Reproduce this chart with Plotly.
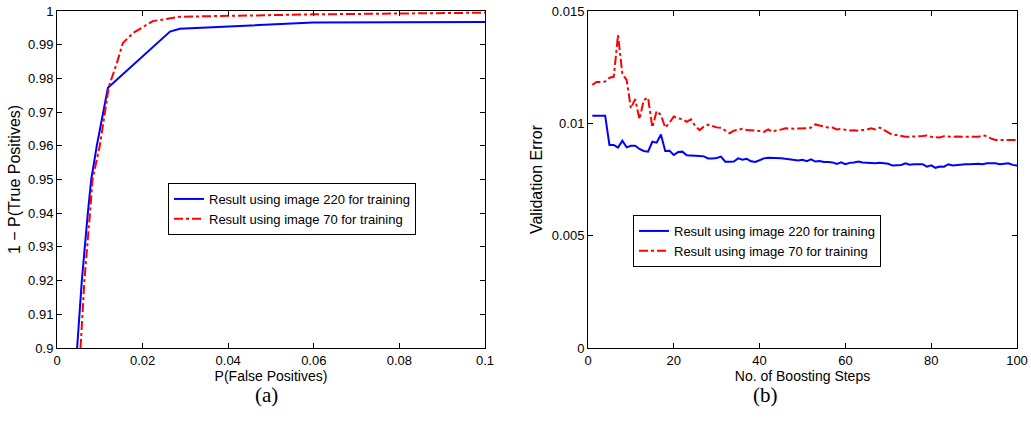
import plotly.graph_objects as go

# ---------- Panel (a): ROC-like curves ----------
roc_fp_220 = [0.0047, 0.0058, 0.0072, 0.0080, 0.0093, 0.0119, 0.0264, 0.0287, 0.0598, 0.1]
roc_tp_220 = [0.900, 0.920, 0.940, 0.950, 0.960, 0.9772, 0.9939, 0.9947, 0.9966, 0.9967]
roc_fp_70 = [0.0055, 0.0064, 0.0077, 0.0083, 0.0100, 0.0113, 0.0121, 0.0140, 0.0154, 0.0178, 0.0224, 0.0287, 0.0598, 0.1]
roc_tp_70 = [0.900, 0.920, 0.940, 0.950, 0.960, 0.970, 0.9775, 0.9846, 0.9905, 0.9935, 0.9970, 0.9983, 0.9990, 0.9995]

# ---------- Panel (b): validation error vs boosting steps ----------
steps = list(range(1, 101))
val_err_220 = [
    0.01034, 0.01034, 0.01034, 0.01034, 0.00904, 0.00904, 0.00892, 0.00923, 0.00893, 0.00900,
    0.00900, 0.00886, 0.00877, 0.00874, 0.00918, 0.00914, 0.00950, 0.00877, 0.00878, 0.00859,
    0.00872, 0.00874, 0.00858, 0.00858, 0.00856, 0.00855, 0.00853, 0.00844, 0.00844, 0.00846,
    0.00852, 0.00829, 0.00829, 0.00830, 0.00844, 0.00838, 0.00842, 0.00831, 0.00828, 0.00837,
    0.00844, 0.00847, 0.00847, 0.00846, 0.00845, 0.00842, 0.00839, 0.00839, 0.00835, 0.00838,
    0.00832, 0.00840, 0.00830, 0.00832, 0.00828, 0.00828, 0.00826, 0.00819, 0.00826, 0.00818,
    0.00824, 0.00826, 0.00830, 0.00826, 0.00824, 0.00824, 0.00822, 0.00824, 0.00822, 0.00820,
    0.00812, 0.00812, 0.00815, 0.00822, 0.00816, 0.00818, 0.00818, 0.00818, 0.00807, 0.00813,
    0.00802, 0.00808, 0.00807, 0.00818, 0.00812, 0.00815, 0.00816, 0.00818, 0.00818, 0.00820,
    0.00820, 0.00818, 0.00822, 0.00822, 0.00822, 0.00818, 0.00820, 0.00822, 0.00815, 0.00812,
]
val_err_70 = [
    0.01171, 0.01184, 0.01184, 0.01186, 0.01203, 0.01207, 0.01393, 0.01220, 0.01193, 0.01067,
    0.01108, 0.01018, 0.01104, 0.01114, 0.00982, 0.01055, 0.01037, 0.00981, 0.01003, 0.01030,
    0.01022, 0.01019, 0.01007, 0.01018, 0.00988, 0.00970, 0.00985, 0.00994, 0.00988, 0.00982,
    0.00980, 0.00966, 0.00956, 0.00967, 0.00970, 0.00976, 0.00970, 0.00970, 0.00968, 0.00966,
    0.00962, 0.00973, 0.00962, 0.00970, 0.00972, 0.00978, 0.00976, 0.00976, 0.00977, 0.00976,
    0.00978, 0.00981, 0.00995, 0.00990, 0.00985, 0.00981, 0.00981, 0.00973, 0.00975, 0.00970,
    0.00968, 0.00969, 0.00967, 0.00970, 0.00972, 0.00978, 0.00973, 0.00981, 0.00970, 0.00958,
    0.00948, 0.00948, 0.00943, 0.00940, 0.00940, 0.00940, 0.00943, 0.00944, 0.00946, 0.00940,
    0.00940, 0.00937, 0.00943, 0.00940, 0.00940, 0.00941, 0.00940, 0.00941, 0.00940, 0.00940,
    0.00940, 0.00946, 0.00943, 0.00932, 0.00926, 0.00926, 0.00926, 0.00926, 0.00926, 0.00926,
]

series_names = ["Result using image 220 for training", "Result using image 70 for training"]

a_xticks = [0, 0.02, 0.04, 0.06, 0.08, 0.1]
a_xticktext = ["0", "0.02", "0.04", "0.06", "0.08", "0.1"]
a_yticks = [0.9, 0.91, 0.92, 0.93, 0.94, 0.95, 0.96, 0.97, 0.98, 0.99, 1.0]
a_yticktext = ["0.9", "0.91", "0.92", "0.93", "0.94", "0.95", "0.96", "0.97", "0.98", "0.99", "1"]
b_xticks = [0, 20, 40, 60, 80, 100]
b_yticks = [0, 0.005, 0.01, 0.015]
b_yticktext = ["0", "0.005", "0.01", "0.015"]

BLUE = "#0000ff"
RED = "#ff0000"
FONT = "Liberation Sans, Arial, sans-serif"
FS = 13
XT = 14
YT = 16

fig = go.Figure()

fig.add_trace(go.Scatter(x=roc_fp_220, y=roc_tp_220, mode="lines", name=series_names[0],
                         line=dict(color=BLUE, width=2), xaxis="x", yaxis="y", legend="legend"))
fig.add_trace(go.Scatter(x=roc_fp_70, y=roc_tp_70, mode="lines", name=series_names[1],
                         line=dict(color=RED, width=2, dash="dashdot"), xaxis="x", yaxis="y", legend="legend"))
fig.add_trace(go.Scatter(x=steps, y=val_err_220, mode="lines", name=series_names[0],
                         line=dict(color=BLUE, width=2), xaxis="x2", yaxis="y2", legend="legend2"))
fig.add_trace(go.Scatter(x=steps, y=val_err_70, mode="lines", name=series_names[1],
                         line=dict(color=RED, width=2, dash="dashdot"), xaxis="x2", yaxis="y2", legend="legend2"))

W, H = 1031, 425

def px_x(p):
    return p / W

def px_y(p):
    return 1 - p / H

axis_common = dict(showline=True, linecolor="black", linewidth=1, mirror="ticks",
                   ticks="inside", ticklen=5, tickcolor="black", showgrid=False, zeroline=False,
                   automargin=False,
                   tickfont=dict(family=FONT, size=FS, color="black"))

fig.update_layout(
    width=W, height=H,
    margin=dict(l=0, r=0, t=0, b=0, autoexpand=False),
    paper_bgcolor="white", plot_bgcolor="white",
    font=dict(family=FONT, size=FS, color="black"),
    xaxis=dict(domain=[px_x(57), px_x(485)], range=[0, 0.1], anchor="y",
               tickvals=a_xticks, ticktext=a_xticktext,
               title=dict(text="P(False Positives)", standoff=1, font=dict(size=XT)), **axis_common),
    yaxis=dict(domain=[px_y(348), px_y(11)], range=[0.9, 1.0], anchor="x",
               tickvals=a_yticks, ticktext=a_yticktext,
               title=dict(text="1 − P(True Positives)", standoff=3, font=dict(size=YT)), **axis_common),
    xaxis2=dict(domain=[px_x(588), px_x(1017)], range=[0, 100], anchor="y2",
                tickvals=b_xticks,
                title=dict(text="No. of Boosting Steps", standoff=1, font=dict(size=XT)), **axis_common),
    yaxis2=dict(domain=[px_y(348), px_y(11)], range=[0, 0.015], anchor="x2",
                tickvals=b_yticks, ticktext=b_yticktext,
                title=dict(text="Validation Error", standoff=5, font=dict(size=YT)), **axis_common),
    legend=dict(x=px_x(168), y=px_y(183), xanchor="left", yanchor="top",
                bordercolor="black", borderwidth=1, bgcolor="white",
                font=dict(family=FONT, size=FS), tracegroupgap=0, itemwidth=30),
    legend2=dict(x=px_x(633), y=px_y(215), xanchor="left", yanchor="top",
                 bordercolor="black", borderwidth=1, bgcolor="white",
                 font=dict(family=FONT, size=FS), tracegroupgap=0, itemwidth=30),
    showlegend=True,
    annotations=[
        dict(text="(a)", x=px_x(253), y=px_y(409), xref="paper", yref="paper",
             showarrow=False, font=dict(family="Liberation Serif, Times New Roman, serif", size=21)),
        dict(text="(b)", x=px_x(780), y=px_y(409), xref="paper", yref="paper",
             showarrow=False, font=dict(family="Liberation Serif, Times New Roman, serif", size=21)),
    ],
)

fig.write_html("out.html", config={"displayModeBar": False},
               post_script="document.body.style.margin='0';document.body.style.overflow='hidden';")
